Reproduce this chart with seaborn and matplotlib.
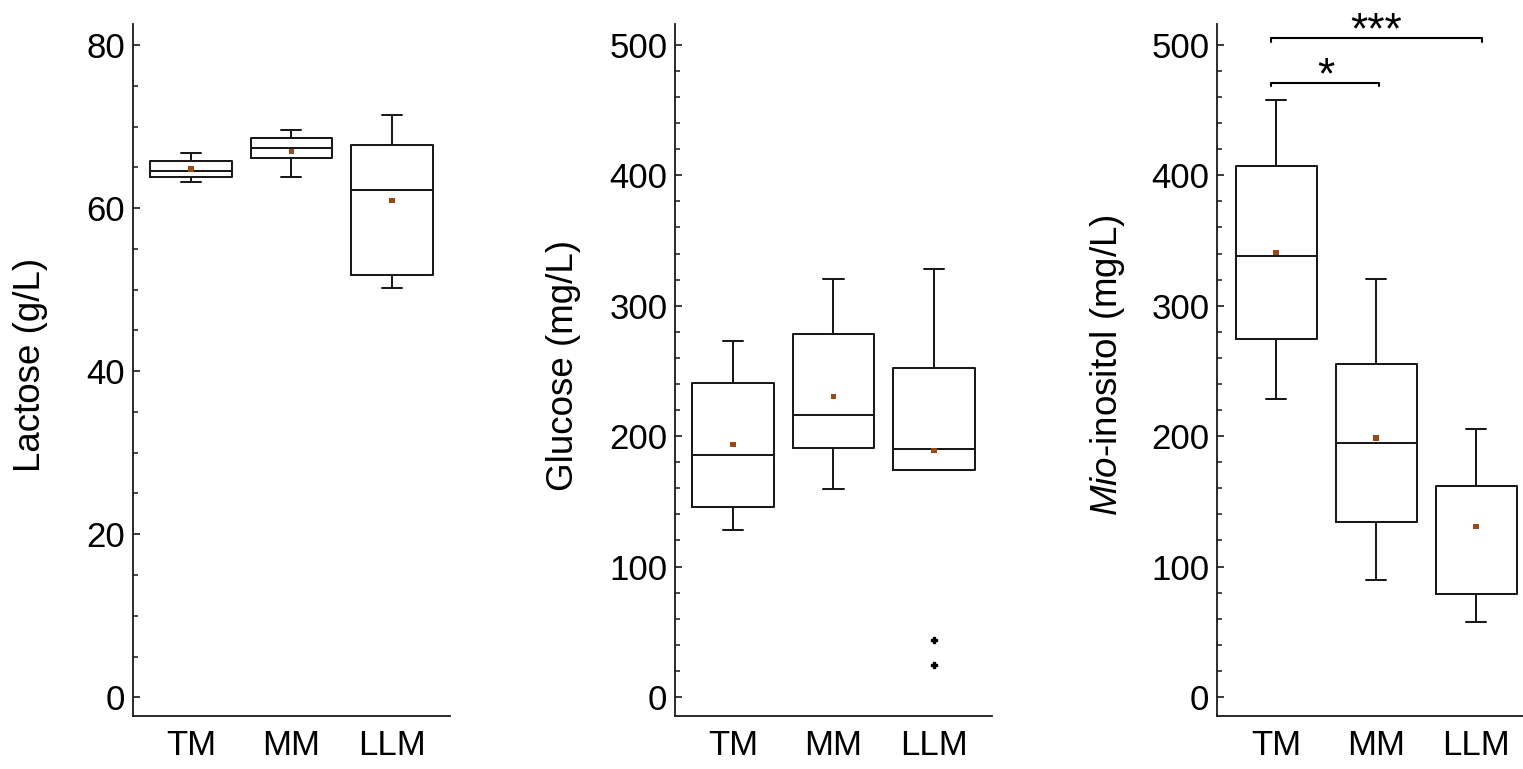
import numpy as np
import pandas as pd
import matplotlib.pyplot as plt
from matplotlib.ticker import MultipleLocator
import seaborn as sns

# ======================= data =======================
groups = ["TM", "MM", "LLM"]

# Lactose (g/L)
lac_whislo = [63.2, 63.8, 50.2]
lac_q1 = [63.8, 66.2, 51.8]
lac_med = [64.6, 67.4, 62.2]
lac_q3 = [65.8, 68.6, 67.8]
lac_whishi = [66.8, 69.6, 71.4]
lac_mean = [64.8, 67.0, 60.9]
lac_fliers = [[], [], []]

# Glucose (mg/L)
glu_whislo = [128.2, 159.8, 173.7]
glu_q1 = [145.9, 191.0, 173.7]
glu_med = [185.7, 216.2, 189.8]
glu_q3 = [241.0, 278.2, 252.3]
glu_whishi = [272.6, 320.7, 328.2]
glu_mean = [193.6, 230.5, 189.1]
glu_fliers = [[], [], [43.6, 24.8]]

# Mio-inositol (mg/L)
mio_whislo = [228.6, 89.5, 57.5]
mio_q1 = [274.8, 133.8, 79.0]
mio_med = [338.3, 194.7, 161.7]
mio_q3 = [406.8, 255.6, 161.7]
mio_whishi = [457.9, 320.7, 205.6]
mio_mean = [340.6, 198.5, 130.8]
mio_fliers = [[], [], []]

# significance brackets on the mio-inositol panel: (from, to, label)
mio_sig = [("TM", "MM", "*"), ("TM", "LLM", "***")]

# ======================= style =======================
sns.set_style("ticks")
plt.rcParams["font.family"] = ["Liberation Sans", "DejaVu Sans"]
plt.rcParams["mathtext.fontset"] = "custom"
plt.rcParams["mathtext.rm"] = "Liberation Sans"
plt.rcParams["mathtext.it"] = "Liberation Sans:italic"
plt.rcParams["text.color"] = "black"

LINE = "#1a1a1a"
MEAN_COL = "#9a4a1a"
LW = 1.45
FS = 25
LFS = 26.5


def draw_panel(ax, whislo, q1, med, q3, whishi, mean, fliers, ylabel,
               ylim, xlim, major, minor, label_x):
    stats = []
    for i, g in enumerate(groups):
        stats.append(dict(label=g, whislo=whislo[i], q1=q1[i], med=med[i],
                          q3=q3[i], whishi=whishi[i], fliers=fliers[i]))
    pos = np.arange(len(groups))
    ax.bxp(stats, positions=pos, widths=0.81, capwidths=0.2, showfliers=True,
           boxprops=dict(color=LINE, linewidth=LW),
           medianprops=dict(color=LINE, linewidth=LW),
           whiskerprops=dict(color=LINE, linewidth=LW),
           capprops=dict(color=LINE, linewidth=LW),
           flierprops=dict(marker="P", markersize=4, markerfacecolor="black",
                           markeredgecolor="black", linestyle="none"))
    # group means
    mean_df = pd.DataFrame({"pos": pos, "mean": mean})
    sns.scatterplot(data=mean_df, x="pos", y="mean", ax=ax, marker="s", s=14,
                    color=MEAN_COL, edgecolor="none", zorder=5, legend=False)

    ax.set_xlim(*xlim)
    ax.set_ylim(*ylim)
    ax.set_xticks(pos)
    ax.set_xticklabels(groups)
    ax.set_xlabel("")
    ax.yaxis.set_major_locator(MultipleLocator(major))
    ax.yaxis.set_minor_locator(MultipleLocator(minor))
    ax.tick_params(axis="y", which="major", direction="in", length=5,
                   width=1.2, color=LINE, labelsize=FS, labelcolor="black", pad=5.5)
    ax.tick_params(axis="y", which="minor", direction="in", length=3.5,
                   width=1.1, color=LINE)
    ax.tick_params(axis="x", which="both", length=0, labelsize=FS,
                   labelcolor="black", pad=9)
    ax.set_ylabel(ylabel, fontsize=LFS, color="black")
    ax.yaxis.set_label_coords(label_x, 0.507)
    sns.despine(ax=ax)
    for side in ["left", "bottom"]:
        ax.spines[side].set_color(LINE)
        ax.spines[side].set_linewidth(1.3)


fig = plt.figure(figsize=(15.23, 7.69), dpi=100)
ax1 = fig.add_axes([0.0873, 0.0689, 0.2081, 0.8999])
ax2 = fig.add_axes([0.4432, 0.0689, 0.2081, 0.8999])
ax3 = fig.add_axes([0.7991, 0.0689, 0.2009, 0.8999])

draw_panel(ax1, lac_whislo, lac_q1, lac_med, lac_q3, lac_whishi, lac_mean,
           lac_fliers, "Lactose (g/L)", (-2.3, 82.6), (-0.577, 2.577), 20, 5, -0.268)
draw_panel(ax2, glu_whislo, glu_q1, glu_med, glu_q3, glu_whishi, glu_mean,
           glu_fliers, "Glucose (mg/L)", (-14.6, 516), (-0.577, 2.577), 100, 20, -0.296)
draw_panel(ax3, mio_whislo, mio_q1, mio_med, mio_q3, mio_whishi, mio_mean,
           mio_fliers, "$\\mathit{Mio}$-inositol (mg/L)", (-14.6, 516), (-0.59, 2.47),
           100, 20, -0.294)

# significance brackets
sig_y = [471, 505]
for (a, b, lab), y in zip(mio_sig, sig_y):
    xa = groups.index(a) - 0.05
    xb = groups.index(b) + 0.03 * groups.index(b)
    ax3.plot([xa, xa, xb, xb], [y - 2.5, y, y, y - 2.5], color="black",
             linewidth=1.5, clip_on=False)
    ax3.text((groups.index(a) + groups.index(b)) / 2, y - 4, lab,
             ha="center", va="baseline", fontsize=32, color="black",
             clip_on=False)

fig.savefig("out.png", dpi=100)
